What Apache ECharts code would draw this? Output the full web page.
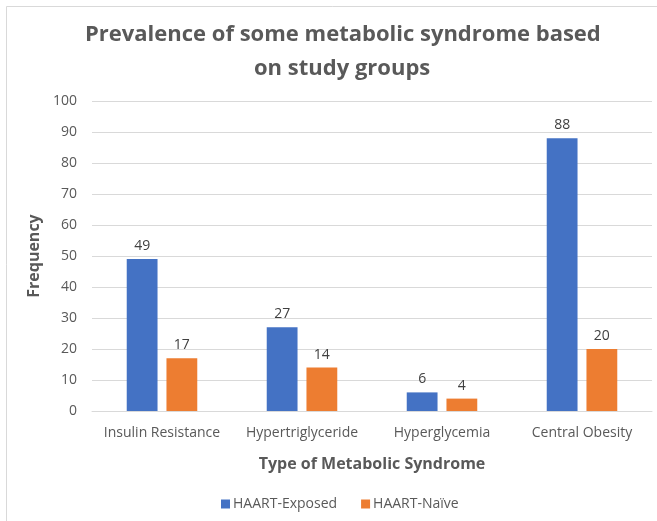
<!DOCTYPE html>
<html>
<head>
<meta charset="utf-8">
<script src="https://cdn.jsdelivr.net/npm/echarts@6/dist/echarts.min.js"></script>
<style>
  html, body { margin: 0; padding: 0; background: #fff; }
  #chart { width: 657px; height: 521px; }
</style>
</head>
<body>
<div id="chart"></div>
<script>
  // data
  var categories = ['Insulin Resistance', 'Hypertriglyceride', 'Hyperglycemia', 'Central Obesity'];
  var exposed = [49, 27, 6, 88];
  var naive = [17, 14, 4, 20];
  var seriesNames = ['HAART-Exposed', 'HAART-Naïve'];
  var titleLines = ['Prevalence of some metabolic syndrome based', 'on study groups'];

  var font = 'Open Sans';
  var titleStyle = { fontFamily: font, fontSize: 22, fontWeight: 'bold', color: '#595959' };
  var chart = echarts.init(document.getElementById('chart'));

  chart.setOption({
    backgroundColor: '#fff',
    animation: false,
    textStyle: { fontFamily: font },
    title: [
      { text: titleLines[0], left: 80, top: 19, textStyle: titleStyle },
      { text: titleLines[1], left: 249, top: 53, textStyle: titleStyle }
    ],
    graphic: [{
      type: 'rect',
      shape: { x: 6.5, y: 6.5, width: 700, height: 600 },
      style: { fill: 'none', stroke: '#d9d9d9', lineWidth: 1 },
      silent: true
    }],
    legend: {
      data: seriesNames,
      left: 216,
      top: 492,
      itemWidth: 9,
      itemHeight: 9,
      itemGap: 24,
      icon: 'rect',
      textStyle: { fontFamily: font, fontSize: 14, color: '#595959', padding: [0, 0, 0, -2] }
    },
    grid: { left: 92, right: 5, top: 101, bottom: 110 },
    xAxis: {
      type: 'category',
      data: categories,
      name: 'Type of Metabolic Syndrome',
      nameLocation: 'middle',
      nameGap: 45,
      nameTextStyle: { fontFamily: font, fontSize: 16, fontWeight: 'bold', color: '#595959' },
      axisLine: { lineStyle: { color: '#d9d9d9', width: 1 } },
      axisTick: { show: false },
      axisLabel: { interval: 0, fontFamily: font, fontSize: 14, color: '#595959', margin: 15 }
    },
    yAxis: {
      type: 'value',
      min: 0,
      max: 100,
      interval: 10,
      name: 'Frequency',
      nameLocation: 'middle',
      nameGap: 47,
      nameTextStyle: { fontFamily: font, fontSize: 16, fontWeight: 'bold', color: '#595959' },
      axisLine: { show: false },
      axisTick: { show: false },
      axisLabel: { fontFamily: font, fontSize: 14, color: '#595959', margin: 15 },
      splitLine: { lineStyle: { color: '#d9d9d9', width: 1 } }
    },
    series: [{
      name: seriesNames[0],
      type: 'bar',
      data: exposed,
      barWidth: '22%',
      barGap: '29%',
      itemStyle: { color: '#4472c4' },
      label: { show: true, position: 'top', distance: 6, fontFamily: font, fontSize: 14, color: '#404040' }
    }, {
      name: seriesNames[1],
      type: 'bar',
      data: naive,
      barWidth: '22%',
      itemStyle: { color: '#ed7d31' },
      label: { show: true, position: 'top', distance: 6, fontFamily: font, fontSize: 14, color: '#404040' }
    }]
  });
</script>
</body>
</html>
